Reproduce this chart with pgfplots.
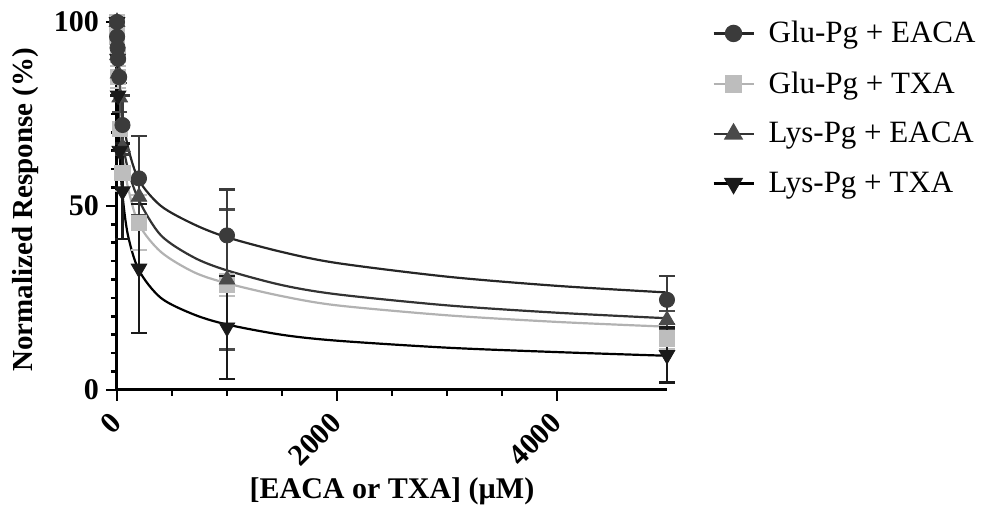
\documentclass[border=0pt]{standalone}
\usepackage{fontspec}
\setmainfont{Liberation Serif}
\usepackage{pgfplots}
\usepackage{pgfplotstable}
\pgfplotsset{compat=1.18}

\definecolor{gluE}{HTML}{3B3B3B}
\definecolor{gluT}{HTML}{BDBDBD}
\definecolor{lysE}{HTML}{4A4A4A}
\definecolor{lysT}{HTML}{1A1A1A}
\newcommand\tickfont{\fontsize{15}{15}\selectfont\bfseries}

% concentration (uM), response (%), error
\pgfplotstableread{
x y e
0 100 0
1 96 0
5 93 0
10 90 0
20 85 0
50 72 8
200 57.5 11.5
1000 42 12.5
5000 24.5 6.5
}\gluEACA
\pgfplotstableread{
x y e
0 100 0
2 96 0
5 91 0
10 85 3
25 71 0
50 59 5
200 45.5 7.5
1000 28.5 3
5000 14 3
}\gluTXA
\pgfplotstableread{
x y e
0 100 0
5 91 0
10 86 0
25 79.5 4
50 66 6
200 52.5 5
1000 30 19
5000 19 2.5
}\lysEACA
\pgfplotstableread{
x y e
0 100 0
5 90 0
10 80 0
25 65 0
50 54 13
200 33 17.5
1000 17 14
5000 9.5 7.5
}\lysTXA

\begin{document}
\begin{tikzpicture}
\path[use as bounding box] (-58.5pt,-61.5pt) rectangle (432.5pt,195pt);
\begin{axis}[
    at={(0,0)}, anchor=origin,
    scale only axis,
    width=275pt, height=184pt,
    xmin=0, xmax=5000, ymin=0, ymax=100,
    axis x line*=bottom, axis y line*=left,
    axis line style={line width=1.5pt, black},
    xtick={0,2000,4000}, minor x tick num=3,
    ytick={0,50,100}, minor y tick num=9,
    tick align=outside,
    major tick length=5.5pt, minor tick length=3pt,
    every tick/.style={line width=1.3pt, black},
    scaled x ticks=false,
    xticklabel={\tickfont\pgfmathprintnumber[1000 sep={},assume math mode=true]{\tick}},
    yticklabel={\tickfont\pgfmathprintnumber[assume math mode=true]{\tick}},
    xticklabel style={yshift=-6pt, xshift=2pt, rotate=45, anchor=east},
    xlabel={[EACA or TXA] (µM)},
    ylabel={Normalized Response (\%)},
    xlabel style={at={(axis description cs:0.5,-0.275)}, anchor=center, font=\bfseries\fontsize{15}{15}\selectfont},
    ylabel style={at={(axis description cs:-0.167,0.49)}, anchor=center, font=\bfseries\fontsize{14.5}{14.5}\selectfont},
    clip=false,
    legend style={at={(1.071,1.025)}, anchor=north west, draw=none, fill=none,
        font=\fontsize{15.5}{15.5}\selectfont, row sep=9pt,
        /tikz/every odd column/.append style={column sep=5pt}},
    legend cell align=left,
    legend image code/.code={\draw[mark repeat=2,mark phase=2] plot coordinates {(0pt,0pt) (10pt,0pt) (20pt,0pt)};},
]
% fitted curves
\addplot[smooth, line width=1.1pt, black!85, forget plot] coordinates {
(0,100) (10,92) (25,84) (50,75) (100,66) (200,57) (400,50) (700,45) (1000,41.5)
(1500,37.5) (2000,34.5) (3000,30.8) (4000,28.3) (5000,26.5)};
\addplot[smooth, line width=1.1pt, black!80, forget plot] coordinates {
(0,100) (10,88) (25,78) (50,68) (100,60) (200,51.5) (400,42) (700,36) (1000,32.5)
(1500,28.5) (2000,26) (3000,23) (4000,21) (5000,19.5)};
\addplot[smooth, line width=1.1pt, gray!60, forget plot] coordinates {
(0,100) (10,85) (25,74) (50,64) (100,55) (200,45) (400,37.5) (700,32) (1000,29)
(1500,25.5) (2000,23) (3000,20.3) (4000,18.5) (5000,17.2)};
\addplot[smooth, line width=1.1pt, black, forget plot] coordinates {
(0,100) (10,80) (25,64) (50,53) (100,42) (200,32.5) (400,25) (700,20.5) (1000,17.8)
(1500,15) (2000,13.4) (3000,11.5) (4000,10.3) (5000,9.3)};

% data points with error bars
\addplot[only marks, mark=square*, mark size=3.8pt, mark options={fill=gluT, draw=gluT}, forget plot,
    error bars/.cd, y dir=both, y explicit,
    error bar style={line width=1.2pt, gluT},
    error mark options={rotate=90, mark size=3.8pt, line width=1.2pt, gluT}]
    table[x=x, y=y, y error=e] {\gluTXA};
\addplot[only marks, mark=triangle*, mark size=4.5pt, mark options={fill=lysE, draw=lysE}, forget plot,
    error bars/.cd, y dir=both, y explicit,
    error bar style={line width=1.2pt, lysE},
    error mark options={rotate=90, mark size=3.8pt, line width=1.2pt, lysE}]
    table[x=x, y=y, y error=e] {\lysEACA};
\addplot[only marks, mark=triangle*, mark size=4.5pt, mark options={fill=lysT, draw=lysT, rotate=180}, forget plot,
    error bars/.cd, y dir=both, y explicit,
    error bar style={line width=1.2pt, lysT},
    error mark options={rotate=90, mark size=3.8pt, line width=1.2pt, lysT}]
    table[x=x, y=y, y error=e] {\lysTXA};
\addplot[only marks, mark=*, mark size=3.8pt, mark options={fill=gluE, draw=gluE}, forget plot,
    error bars/.cd, y dir=both, y explicit,
    error bar style={line width=1.2pt, gluE},
    error mark options={rotate=90, mark size=3.8pt, line width=1.2pt, gluE}]
    table[x=x, y=y, y error=e] {\gluEACA};

% legend
\addlegendimage{line width=1.1pt, black!85, mark=*, mark size=3.8pt, mark options={fill=gluE, draw=gluE}}
\addlegendentry{Glu-Pg + EACA}
\addlegendimage{line width=1.1pt, gray!60, mark=square*, mark size=3.8pt, mark options={fill=gluT, draw=gluT}}
\addlegendentry{Glu-Pg + TXA}
\addlegendimage{line width=1.1pt, black!80, mark=triangle*, mark size=4.5pt, mark options={fill=lysE, draw=lysE}}
\addlegendentry{Lys-Pg + EACA}
\addlegendimage{line width=1.1pt, black, mark=triangle*, mark size=4.5pt, mark options={fill=lysT, draw=lysT, rotate=180}}
\addlegendentry{Lys-Pg + TXA}
\end{axis}
\end{tikzpicture}
\end{document}
